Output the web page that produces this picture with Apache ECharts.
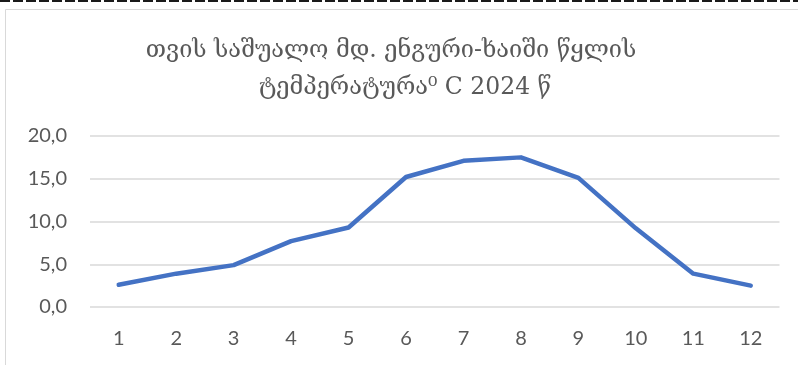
<!DOCTYPE html>
<html>
<head>
<meta charset="utf-8">
<script src="https://cdn.jsdelivr.net/npm/echarts@6/dist/echarts.min.js"></script>
<style>
  html, body { margin: 0; padding: 0; background: #ffffff; }
  #chart { width: 798px; height: 365px; }
</style>
</head>
<body>
<div id="chart"></div>
<script>
// Months of 2024
const months = ['1', '2', '3', '4', '5', '6', '7', '8', '9', '10', '11', '12'];
// Mean monthly water temperature, °C
const waterTemp = [2.6, 3.9, 4.9, 7.7, 9.3, 15.2, 17.1, 17.5, 15.1, 9.2, 3.9, 2.5];
// Title lines
const titleLines = ['თვის საშუალო მდ. ენგური-ხაიში წყლის', 'ტემპერატურა⁰ C 2024 წ'];

const chart = echarts.init(document.getElementById('chart'));
const labelFont = 'Lato, "Liberation Sans", sans-serif';
const titleFont = '"DejaVu Serif", serif';

chart.setOption({
  animation: false,
  backgroundColor: '#ffffff',
  grid: { left: 90, right: 18.5, top: 136, bottom: 58 },
  graphic: [
    { type: 'line', shape: { x1: 0, y1: 1, x2: 798, y2: 1 },
      style: { stroke: '#1a1a1a', lineWidth: 2, lineDash: [10, 3] } },
    { type: 'rect', shape: { x: 5.5, y: 9.5, width: 900, height: 400 },
      style: { fill: 'none', stroke: '#d9d9d9', lineWidth: 1 } },
    { type: 'text', x: 391, y: 51,
      style: { text: titleLines[0], font: '23.5px ' + titleFont, fill: '#595959',
               textAlign: 'center', textVerticalAlign: 'middle' } },
    { type: 'text', x: 405, y: 88,
      style: { text: titleLines[1], font: '23.5px ' + titleFont, fill: '#595959',
               textAlign: 'center', textVerticalAlign: 'middle' } }
  ],
  xAxis: {
    type: 'category',
    data: months,
    boundaryGap: true,
    axisLine: { show: false },
    axisTick: { show: false },
    axisLabel: { color: '#595959', fontFamily: labelFont, fontSize: 20, margin: 22 }
  },
  yAxis: {
    type: 'value',
    min: 0, max: 20, interval: 5,
    axisLine: { show: false },
    axisTick: { show: false },
    axisLabel: {
      color: '#595959', fontFamily: labelFont, fontSize: 20, margin: 23,
      formatter: v => v.toFixed(1).replace('.', ',')
    },
    splitLine: { lineStyle: { color: '#d9d9d9', width: 1.5 } }
  },
  series: [{
    type: 'line',
    data: waterTemp,
    symbol: 'none',
    lineStyle: { color: '#4472c4', width: 4.5, cap: 'round', join: 'round' }
  }]
});
</script>
</body>
</html>
